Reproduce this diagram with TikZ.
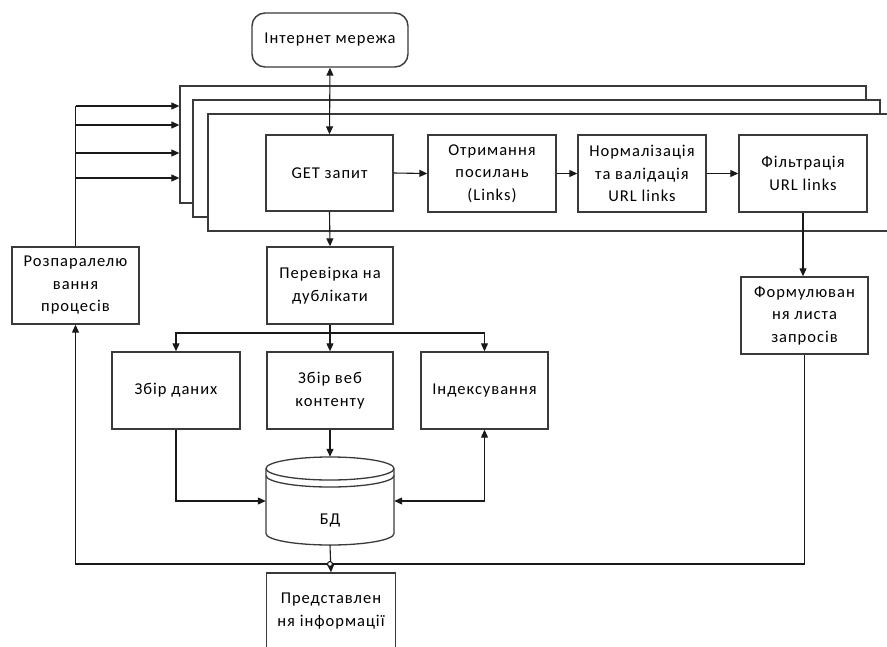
\documentclass[tikz,border=0pt]{standalone}
\usepackage{fontspec}
\setmainfont{Carlito}[LetterSpace=6]
\usetikzlibrary{arrows.meta}
\definecolor{edge}{HTML}{3A3A3A}
\tikzset{
  every picture/.style={x=1pt,y=-1pt},
  blk/.style={draw=edge, line width=1.4pt, fill=white, align=center, inner sep=0pt,
    minimum width=128pt, minimum height=77pt, font=\fontsize{16.5}{22.5}\selectfont},
  frm/.style={draw=edge, line width=1.3pt, fill=white, inner sep=0pt},
  conn/.style={draw=black!90, line width=1.1pt},
  tip/.style={-{Triangle[length=8pt,width=7pt]}},
  tips/.style={{Triangle[length=8pt,width=7pt]}-{Triangle[length=8pt,width=7pt]}},
}
\begin{document}
\begin{tikzpicture}
\useasboundingbox (0,0) rectangle (887,646);
% stacked frames
\node[frm, minimum width=686pt, minimum height=117pt] (f1) at (523,144.5) {};
\node[frm, minimum width=687pt, minimum height=117pt] (f2) at (536.5,158.5) {};
\begin{scope}
\clip (0,0) rectangle (887,646);
\node[frm, minimum width=700pt, minimum height=117pt] (f3) at (558,172.5) {};
\end{scope}
% internet
\node[blk, rounded corners=13pt, minimum width=156pt, minimum height=54pt] (inet) at (330,40) {Інтернет мережа};
% top row
\node[blk, minimum width=127pt, minimum height=76pt] (get) at (329.5,173) {GET запит};
\node[blk] (otr) at (492,173.5) {Отримання\\посилань\\(Links)};
\node[blk] (norm) at (642,173.5) {Нормалізація\\та валідація\\URL links};
\node[blk] (filt) at (803,173.5) {Фільтрація\\URL links};
% middle
\node[blk, minimum width=126pt] (perev) at (330,285.5) {Перевірка на\\дублікати};
\node[blk, minimum width=127pt] (rozp) at (75.5,285.5) {Розпаралелю\\вання\\процесів};
\node[blk, minimum width=127pt] (form) at (804.5,315.5) {Формулюван\\ня листа\\запросів};
\node[blk] (zbd) at (176,390.5) {Збір даних};
\node[blk, minimum width=126pt] (zbv) at (330,390.5) {Збір веб\\контенту};
\node[blk, minimum width=127pt] (ind) at (484.5,390.5) {Індексування};
% database
\node[inner sep=0pt, minimum width=128pt, minimum height=88pt] (bd) at (330,501) {};
\draw[draw=edge, line width=1.3pt, fill=white]
  (266,468.5) -- (266,533.5) arc[start angle=180, end angle=0, x radius=64, y radius=11.5]
  -- (394,468.5);
\draw[draw=edge, line width=1.3pt, fill=white] (330,468.5) ellipse[x radius=64, y radius=11.5];
\draw[draw=edge, line width=1.3pt] (266,475.5) arc[start angle=180, end angle=0, x radius=64, y radius=11.5];
\node[font=\fontsize{16.5}{22.5}\selectfont] at (330,520) {БД};
% presentation
\node[blk, minimum width=129pt, minimum height=76pt] (pred) at (331,611) {Представлен\\ня інформації};
% connectors
\draw[conn, tips] (inet.south) -- (get.north);
\draw[conn, tip] (get.east) -- (otr.west);
\draw[conn, tip] (otr.east) -- (norm.west);
\draw[conn, tip] (norm.east) -- (filt.west);
\draw[conn, tip] (filt.south) -- (filt.south |- form.north);
\draw[conn, tip] (get.south) -- (perev.north);
\coordinate (split) at (330,333);
\draw[conn] (perev.south) -- (split);
\draw[conn, tip] (split) -| (zbd.north);
\draw[conn, tip] (split) -| (ind.north);
\draw[conn, tip] (split) -- (zbv.north);
\draw[conn, tip] (zbv.south) -- (bd.north);
\draw[conn, tip] (zbd.south) |- (bd.west);
\draw[conn, tips] (bd.east) -| (ind.south);
\coordinate (loopy) at (0,564);
\draw[conn, tip] (form.south) -- (form.south |- loopy) -- (rozp.south |- loopy) -- (rozp.south);
\draw[conn, tip] (bd.south) -- (pred.north);
\draw[conn, fill=white] (bd.south |- loopy) circle[radius=2.5pt];
\coordinate (rtop) at (75.5,106);
\draw[conn] (rozp.north) -- (rtop);
\foreach \yy in {106,125,153,178} {
  \draw[conn, tip] (rozp.north |- 0,\yy) -- (f1.west |- 0,\yy);
}
\end{tikzpicture}
\end{document}
